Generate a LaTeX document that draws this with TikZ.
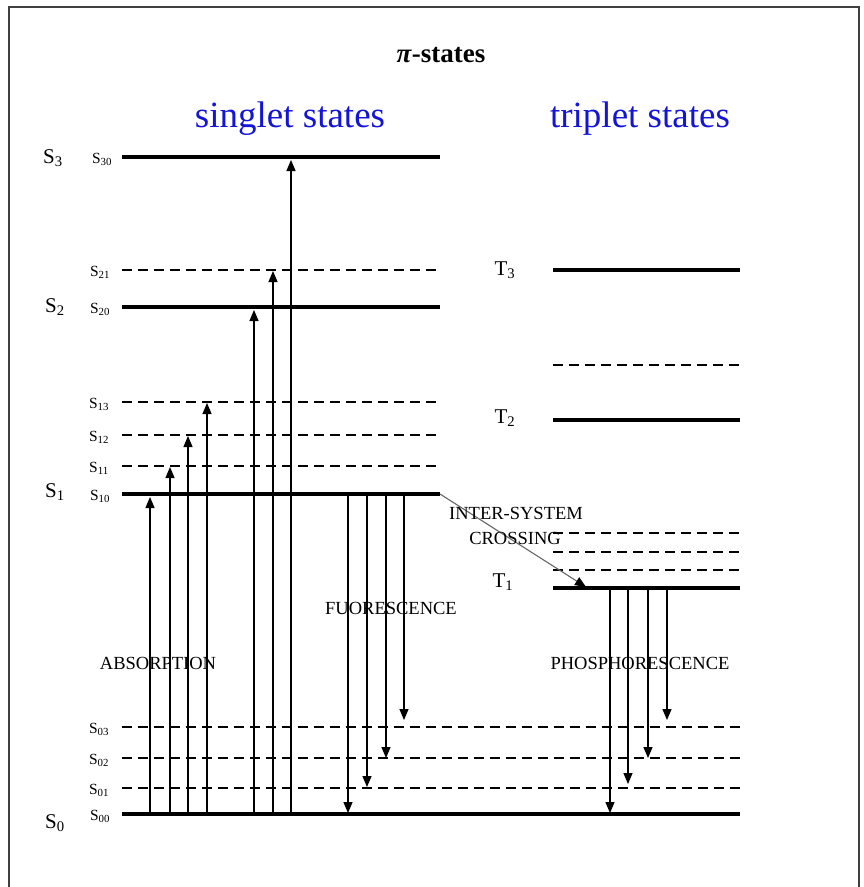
\documentclass[tikz,border=0pt]{standalone}
\usepackage{fontspec}
\setmainfont{Liberation Serif}
\usepackage{xcolor}
\usetikzlibrary{arrows.meta}
\definecolor{headblue}{RGB}{20,20,215}

\begin{document}
\begin{tikzpicture}[x=1pt, y=-1pt,
  lev/.style={line width=4pt},
  sublev/.style={line width=1.8pt, dash pattern=on 10pt off 6pt},
  jump/.style={line width=1.3pt, -{Triangle[length=11pt,width=9pt]}},
  txt/.style={inner sep=0pt, anchor=base, font=\fontsize{18.5}{20}\selectfont},
  bigS/.style={inner sep=0pt, anchor=base, font=\fontsize{21}{24}\selectfont},
  smallS/.style={inner sep=0pt, anchor=base, font=\fontsize{15.5}{17}\selectfont},
  head/.style={inner sep=0pt, anchor=base, text=headblue, font=\fontsize{37}{40}\selectfont}]
\useasboundingbox (0,0) rectangle (864,887);
% 边框
\draw[line width=1.5pt, black!75] (9,887) -- (9,7) -- (859,7) -- (859,887);
% 单重态
\coordinate (S30a) at (122,157); \coordinate (S30b) at (440,157);
\coordinate (S21a) at (122,270); \coordinate (S21b) at (440,270);
\coordinate (S20a) at (122,307); \coordinate (S20b) at (440,307);
\coordinate (S13a) at (122,402); \coordinate (S13b) at (440,402);
\coordinate (S12a) at (122,435); \coordinate (S12b) at (440,435);
\coordinate (S11a) at (122,466); \coordinate (S11b) at (440,466);
\coordinate (S10a) at (122,494); \coordinate (S10b) at (440,494);
\coordinate (S03a) at (122,727); \coordinate (S03b) at (740,727);
\coordinate (S02a) at (122,758); \coordinate (S02b) at (740,758);
\coordinate (S01a) at (122,788); \coordinate (S01b) at (740,788);
\coordinate (S00a) at (122,814); \coordinate (S00b) at (740,814);
\draw[lev] (S30a)--(S30b); \draw[lev] (S20a)--(S20b);
\draw[lev] (S10a)--(S10b); \draw[lev] (S00a)--(S00b);
\draw[sublev] (S21a)--(S21b); \draw[sublev] (S13a)--(S13b);
\draw[sublev] (S12a)--(S12b); \draw[sublev] (S11a)--(S11b);
\draw[sublev] (S03a)--(S03b); \draw[sublev] (S02a)--(S02b);
\draw[sublev] (S01a)--(S01b);
% 三重态
\coordinate (T3a) at (553,270); \coordinate (T3b) at (740,270);
\coordinate (T21a) at (553,365); \coordinate (T21b) at (740,365);
\coordinate (T2a) at (553,420); \coordinate (T2b) at (740,420);
\coordinate (T13a) at (553,533); \coordinate (T13b) at (740,533);
\coordinate (T12a) at (553,552); \coordinate (T12b) at (740,552);
\coordinate (T11a) at (553,570); \coordinate (T11b) at (740,570);
\coordinate (T1a) at (553,588); \coordinate (T1b) at (740,588);
\draw[lev] (T3a)--(T3b); \draw[lev] (T2a)--(T2b); \draw[lev] (T1a)--(T1b);
\draw[sublev] (T21a)--(T21b); \draw[sublev] (T13a)--(T13b);
\draw[sublev] (T12a)--(T12b); \draw[sublev] (T11a)--(T11b);
% 吸收
\coordinate (a1) at (150,814); \coordinate (a1e) at (150,497);
\coordinate (a2) at (170,814); \coordinate (a2e) at (170,467);
\coordinate (a3) at (188,814); \coordinate (a3e) at (188,436);
\coordinate (a4) at (207,814); \coordinate (a4e) at (207,403);
\coordinate (a5) at (254,814); \coordinate (a5e) at (254,310);
\coordinate (a6) at (273,814); \coordinate (a6e) at (273,271);
\coordinate (a7) at (291,814); \coordinate (a7e) at (291,160);
\draw[jump] (a1)--(a1e); \draw[jump] (a2)--(a2e);
\draw[jump] (a3)--(a3e); \draw[jump] (a4)--(a4e);
\draw[jump] (a5)--(a5e); \draw[jump] (a6)--(a6e);
\draw[jump] (a7)--(a7e);
% 荧光
\coordinate (f1) at (348,494); \coordinate (f1e) at (348,813);
\coordinate (f2) at (367,494); \coordinate (f2e) at (367,787);
\coordinate (f3) at (386,494); \coordinate (f3e) at (386,758);
\coordinate (f4) at (404,494); \coordinate (f4e) at (404,720);
\draw[jump] (f1)--(f1e); \draw[jump] (f2)--(f2e);
\draw[jump] (f3)--(f3e); \draw[jump] (f4)--(f4e);
% 磷光
\coordinate (p1) at (610,588); \coordinate (p1e) at (610,813);
\coordinate (p2) at (628,588); \coordinate (p2e) at (628,784);
\coordinate (p3) at (648,588); \coordinate (p3e) at (648,758);
\coordinate (p4) at (667,588); \coordinate (p4e) at (667,720);
\draw[jump] (p1)--(p1e); \draw[jump] (p2)--(p2e);
\draw[jump] (p3)--(p3e); \draw[jump] (p4)--(p4e);
% 系间窜越
\coordinate (iscend) at (586,587);
\draw[line width=1.1pt, black!60, -{Triangle[length=11pt,width=9pt,color=black]}] (S10b)--(iscend);
% 文字
\node[inner sep=0pt, anchor=base, font=\bfseries\fontsize{27}{30}\selectfont] (title) at (441,62) {\textit{π}-states};
\node[head] (singlet) at (290,127) {singlet states};
\node[head] (triplet) at (640,127) {triplet states};
\node[bigS] (lS3) at (53,163) {S\textsubscript{3}};
\node[bigS] (lS2) at (55,312) {S\textsubscript{2}};
\node[bigS] (lS1) at (55,497) {S\textsubscript{1}};
\node[bigS] (lS0) at (55,828) {S\textsubscript{0}};
\node[smallS] (lS30) at (102,163) {S\textsubscript{30}};
\node[smallS] (lS21) at (100,276) {S\textsubscript{21}};
\node[smallS] (lS20) at (100,313) {S\textsubscript{20}};
\node[smallS] (lS13) at (99,408) {S\textsubscript{13}};
\node[smallS] (lS12) at (99,441) {S\textsubscript{12}};
\node[smallS] (lS11) at (99,472) {S\textsubscript{11}};
\node[smallS] (lS10) at (100,500) {S\textsubscript{10}};
\node[smallS] (lS03) at (99,733) {S\textsubscript{03}};
\node[smallS] (lS02) at (99,764) {S\textsubscript{02}};
\node[smallS] (lS01) at (99,794) {S\textsubscript{01}};
\node[smallS] (lS00) at (100,820) {S\textsubscript{00}};
\node[bigS] (lT3) at (505,275) {T\textsubscript{3}};
\node[bigS] (lT2) at (505,423) {T\textsubscript{2}};
\node[bigS] (lT1) at (503,587) {T\textsubscript{1}};
\node[txt] (absorb) at (158,669) {ABSORPTION};
\node[txt] (fluor) at (391,614) {FUORESCENCE};
\node[txt] (phos) at (640,669) {PHOSPHORESCENCE};
\node[txt] (isc1) at (516,519) {INTER-SYSTEM};
\node[txt] (isc2) at (515,544) {CROSSING};
\end{tikzpicture}
\end{document}
